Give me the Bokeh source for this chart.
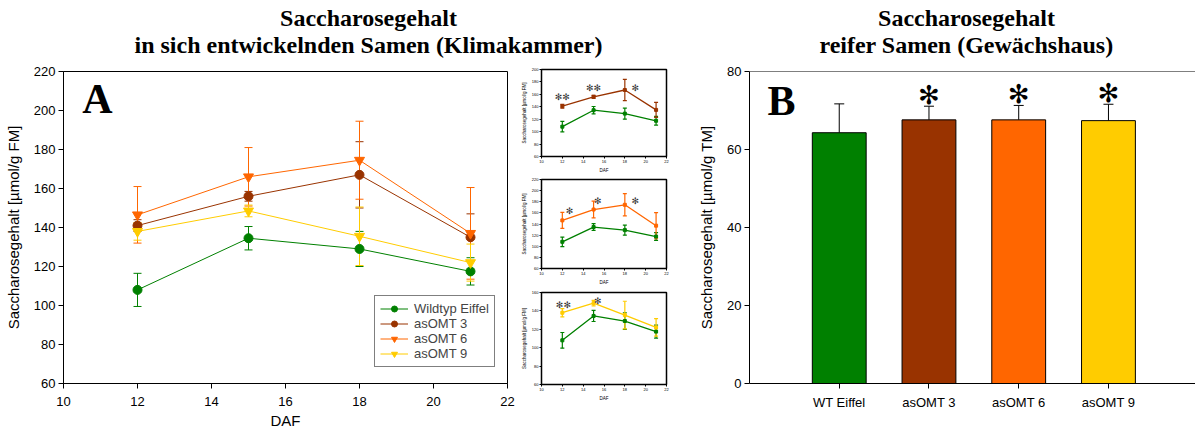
from bokeh.plotting import figure
from bokeh.layouts import row, column
from bokeh.models import (ColumnDataSource, Whisker, TeeHead, Legend, LegendItem,
                          Label, Span, FixedTicker, Range1d)
from bokeh.embed import file_html
from bokeh.resources import INLINE
from bokeh.core.properties import value

# ---------------- data ----------------
daf = [12, 15, 18, 21]
wt_mean = [108.0, 134.5, 129.0, 117.5]
wt_err = [8.5, 6.0, 9.0, 7.0]
omt3_mean = [141.0, 156.0, 167.0, 135.0]
omt3_err = [3.0, 2.5, 17.0, 12.0]
omt6_mean = [146.5, 166.0, 174.5, 137.0]
omt6_err = [14.5, 15.0, 20.0, 23.5]
omt9_mean = [138.0, 148.5, 135.5, 122.0]
omt9_err = [4.5, 3.0, 15.0, 9.5]

series_names = ["Wildtyp Eiffel", "asOMT 3", "asOMT 6", "asOMT 9"]
series_colors = ["#008000", "#993300", "#FF6600", "#FFCC00"]
series_markers = ["circle", "circle", "inverted_triangle", "inverted_triangle"]
series_means = [wt_mean, omt3_mean, omt6_mean, omt9_mean]
series_errs = [wt_err, omt3_err, omt6_err, omt9_err]

bar_labels = ["WT Eiffel", "asOMT 3", "asOMT 6", "asOMT 9"]
bar_values = [64.3, 67.6, 67.6, 67.4]
bar_errors = [7.4, 3.5, 3.7, 4.2]
bar_signif = ["", "\u273B", "\u273B", "\u273B"]

# inset significance marks (x in DAF, y in µmol/g FM)
inset1_sig = dict(x=[12.0, 15.0, 19.0], y=[156.0, 170.0, 170.0], t=["\u273B\u273B", "\u273B\u273B", "\u273B"])
inset2_sig = dict(x=[12.7, 15.4, 19.0], y=[164.0, 181.0, 181.0], t=["\u273B", "\u273B", "\u273B"])
inset3_sig = dict(x=[12.1, 15.4], y=[146.0, 150.5], t=["\u273B\u273B", "\u273B"])

SANS = "Liberation Sans"
SERIF = "Liberation Serif"


def style_axes(p, tick_px, label_px, tick_out, lab_standoff, axlab_standoff):
    for ax in list(p.xaxis) + list(p.yaxis):
        ax.major_label_text_font = SANS
        ax.major_label_text_font_size = tick_px
        ax.major_label_text_color = "black"
        ax.axis_label_text_font = SANS
        ax.axis_label_text_font_size = label_px
        ax.axis_label_text_font_style = "normal"
        ax.axis_label_text_color = "black"
        ax.axis_line_color = "black"
        ax.major_tick_line_color = "black"
        ax.minor_tick_line_color = None
        ax.major_tick_in = 0
        ax.major_tick_out = tick_out
        ax.major_label_standoff = lab_standoff
        ax.axis_label_standoff = axlab_standoff
    p.xgrid.visible = False
    p.ygrid.visible = False


# ---------------- title strip ----------------
pT = figure(width=1195, height=60, x_range=Range1d(0, 1195), y_range=Range1d(60, 0),
            x_axis_type=None, y_axis_type=None, min_border=0, title=None,
            output_backend="svg", toolbar_location=None)
pT.outline_line_color = None
pT.grid.visible = False
for (tx, ty, txt) in [(368, 17, "Saccharosegehalt"),
                      (368, 44, "in sich entwickelnden Samen (Klimakammer)"),
                      (966, 17, "Saccharosegehalt"),
                      (966, 44, "reifer Samen (Gewächshaus)")]:
    pT.add_layout(Label(x=tx, y=ty, text=txt, text_align="center", text_baseline="middle",
                        text_font=SERIF, text_font_style="bold", text_font_size="24px",
                        text_color="black"))

# ---------------- panel A ----------------
pA = figure(width=518, height=374, x_range=Range1d(10, 22), y_range=Range1d(60, 220),
            min_border_left=63, min_border_right=11, min_border_top=11, min_border_bottom=51,
            title=None, output_backend="svg", toolbar_location=None)
pA.xaxis.ticker = FixedTicker(ticks=list(range(10, 23, 2)))
pA.yaxis.ticker = FixedTicker(ticks=list(range(60, 221, 20)))
pA.xaxis.axis_label = "DAF"
pA.yaxis.axis_label = "Saccharosegehalt [µmol/g FM]"
style_axes(pA, "13px", "15px", 5, 3, 6)
pA.xaxis.major_label_standoff = 8
pA.xaxis.axis_label_standoff = 3
pA.yaxis.axis_label_standoff = 9
pA.outline_line_color = "black"
pA.outline_line_alpha = 1.0

items = []
for name, color, marker, m, e in zip(series_names, series_colors, series_markers, series_means, series_errs):
    src = ColumnDataSource(dict(x=daf, y=m, lo=[a - b for a, b in zip(m, e)], hi=[a + b for a, b in zip(m, e)]))
    pA.add_layout(Whisker(source=src, base="x", lower="lo", upper="hi", line_color=color, line_width=1,
                          upper_head=TeeHead(size=8, line_color=color, line_width=1),
                          lower_head=TeeHead(size=8, line_color=color, line_width=1)))
    ln = pA.line("x", "y", source=src, line_color=color, line_width=1)
    sc = pA.scatter("x", "y", source=src, marker=marker, size=9 if marker == "circle" else 10,
                    fill_color=color, line_color=color)
    items.append(LegendItem(label=name, renderers=[ln, sc]))

leg = Legend(items=items, location=(311, 16), border_line_color="black", border_line_width=1,
             label_text_font=SANS, label_text_font_size="13px", glyph_width=28, glyph_height=15,
             label_height=15, spacing=0, padding=5, margin=0, label_standoff=6,
             background_fill_color="white", background_fill_alpha=1.0)
pA.add_layout(leg)
pA.add_layout(Label(x=10.51, y=205.9, text="A", text_font=SERIF, text_font_style="bold",
                    text_font_size="42px", text_baseline="middle", text_color="black"))


# ---------------- insets ----------------
def make_inset(h, b_top, b_bottom, ymax, idxs, sig):
    p = figure(width=160, height=h, x_range=Range1d(10, 22), y_range=Range1d(60, ymax),
               min_border_left=20, min_border_right=12, min_border_top=b_top, min_border_bottom=b_bottom,
               title=None, output_backend="svg", toolbar_location=None)
    p.xaxis.ticker = FixedTicker(ticks=list(range(10, 23, 2)))
    p.yaxis.ticker = FixedTicker(ticks=list(range(60, ymax + 1, 20)))
    p.xaxis.axis_label = "DAF"
    p.yaxis.axis_label = "Saccharosegehalt [µmol/g FM]"
    style_axes(p, "4px", "4.5px", 2, 1, 2)
    p.outline_line_color = "black"
    p.outline_line_width = 1.5
    for i in idxs:
        m, e, c = series_means[i], series_errs[i], series_colors[i]
        src = ColumnDataSource(dict(x=daf, y=m, lo=[a - b for a, b in zip(m, e)], hi=[a + b for a, b in zip(m, e)]))
        p.add_layout(Whisker(source=src, base="x", lower="lo", upper="hi", line_color=c, line_width=1.2,
                             upper_head=TeeHead(size=4, line_color=c, line_width=1.2),
                             lower_head=TeeHead(size=4, line_color=c, line_width=1.2)))
        p.line("x", "y", source=src, line_color=c, line_width=1.3)
        p.scatter("x", "y", source=src, marker="square", size=3, fill_color=c, line_color=c)
    p.text(x="x", y="y", text="t", source=ColumnDataSource(sig), text_font=value("DejaVu Sans"),
           text_font_size="9px", text_align="center", text_baseline="middle", text_color="#333333")
    return p


in1 = make_inset(115, 9, 16, 200, [0, 1], inset1_sig)
in2 = make_inset(112, 4, 17, 220, [0, 2], inset2_sig)
in3 = make_inset(147, 5, 50, 160, [0, 3], inset3_sig)

# ---------------- panel B ----------------
pB = figure(width=517, height=374, x_range=Range1d(0, 4.97), y_range=Range1d(0, 80),
            min_border_left=71, min_border_right=0, min_border_top=9, min_border_bottom=47,
            title=None, output_backend="svg", toolbar_location=None)
xs = [i + 1 for i in range(len(bar_labels))]
bsrc = ColumnDataSource(dict(x=xs, top=bar_values, color=series_colors,
                             hi=[v + e for v, e in zip(bar_values, bar_errors)],
                             sy=[v + e + 2.9 for v, e in zip(bar_values, bar_errors)],
                             sig=bar_signif))
pB.add_layout(Whisker(source=bsrc, base="x", lower="top", upper="hi", line_color="black", line_width=1,
                      upper_head=TeeHead(size=10, line_color="black", line_width=1), lower_head=None))
pB.vbar(x="x", top="top", bottom=0, width=0.6, fill_color="color", line_color="black", line_width=1,
        source=bsrc)
pB.text(x="x", y="sy", text="sig", source=bsrc, text_font=value("DejaVu Sans"), text_font_size="26px",
        text_align="center", text_baseline="middle", text_color="black")
pB.xaxis.ticker = FixedTicker(ticks=xs)
pB.xaxis.major_label_overrides = {x: lab for x, lab in zip(xs, bar_labels)}
pB.yaxis.ticker = FixedTicker(ticks=list(range(0, 81, 20)))
pB.yaxis.axis_label = "Saccharosegehalt [µmol/g TM]"
style_axes(pB, "13px", "15px", 5, 3, 6)
pB.xaxis.major_label_standoff = 6
pB.yaxis.axis_label_standoff = 9
pB.outline_line_color = None
pB.add_layout(Span(location=80, dimension="width", line_color="black", line_width=1))
pB.add_layout(Label(x=0.2, y=72.45, text="B", text_font=SERIF, text_font_style="bold",
                    text_font_size="42px", text_baseline="middle", text_color="black"))

layout = column(pT, row(pA, column(in1, in2, in3), pB))

with open("out.html", "w") as f:
    f.write(file_html(layout, INLINE))
